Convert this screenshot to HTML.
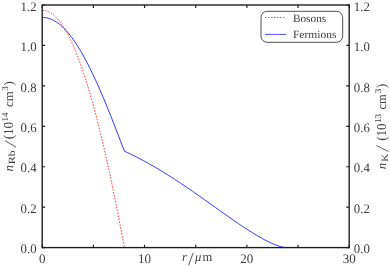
<!DOCTYPE html>
<html><head><meta charset="utf-8"><title>plot</title>
<style>
html,body{margin:0;padding:0;background:#fff;}
svg{text-rendering:geometricPrecision;display:block;will-change:transform;font-family:"Liberation Serif",serif;}
</style></head><body>
<svg width="390" height="267" viewBox="0 0 390 267">
<rect width="390" height="267" fill="#fff"/>
<path d="M42.50,10.37 L43.89,10.44 L45.28,10.66 L46.66,11.02 L48.05,11.53 L49.44,12.18 L50.83,12.98 L52.21,13.92 L53.60,15.01 L54.99,16.24 L56.38,17.61 L57.76,19.13 L59.15,20.78 L60.54,22.59 L61.93,24.53 L63.31,26.62 L64.70,28.85 L66.09,31.22 L67.48,33.73 L68.86,36.38 L70.25,39.17 L71.64,42.10 L73.03,45.16 L74.41,48.37 L75.80,51.71 L77.19,55.19 L78.58,58.80 L79.96,62.55 L81.35,66.43 L82.74,70.45 L84.13,74.60 L85.51,78.88 L86.90,83.29 L88.29,87.82 L89.68,92.49 L91.06,97.29 L92.45,102.21 L93.84,107.26 L95.23,112.43 L96.62,117.73 L98.00,123.14 L99.39,128.68 L100.78,134.34 L102.17,140.11 L103.55,146.01 L104.94,152.02 L106.33,158.14 L107.72,164.38 L109.10,170.73 L110.49,177.18 L111.88,183.75 L113.27,190.43 L114.65,197.21 L116.04,204.09 L117.43,211.08 L118.82,218.17 L120.20,225.36 L121.59,232.64 L122.98,240.02 L124.37,247.50" fill="none" stroke="#ff0000" stroke-width="0.8" stroke-dasharray="1.5 1.5"/>
<path d="M42.50,17.45 L43.89,17.49 L45.28,17.63 L46.66,17.86 L48.05,18.18 L49.44,18.60 L50.83,19.10 L52.21,19.70 L53.60,20.38 L54.99,21.16 L56.38,22.03 L57.76,22.98 L59.15,24.03 L60.54,25.16 L61.93,26.38 L63.31,27.69 L64.70,29.08 L66.09,30.56 L67.48,32.12 L68.86,33.77 L70.25,35.50 L71.64,37.31 L73.03,39.20 L74.41,41.17 L75.80,43.22 L77.19,45.34 L78.58,47.54 L79.96,49.82 L81.35,52.16 L82.74,54.58 L84.13,57.07 L85.51,59.63 L86.90,62.25 L88.29,64.94 L89.68,67.70 L91.06,70.51 L92.45,73.38 L93.84,76.32 L95.23,79.31 L96.62,82.35 L98.00,85.45 L99.39,88.59 L100.78,91.79 L102.17,95.03 L103.55,98.31 L104.94,101.64 L106.33,105.00 L107.72,108.40 L109.10,111.84 L110.49,115.31 L111.88,118.81 L113.27,122.34 L114.65,125.89 L116.04,129.46 L117.43,133.05 L118.82,136.66 L120.20,140.28 L121.59,143.92 L122.98,147.56 L124.37,151.20 L125.99,151.94 L127.62,152.70 L129.25,153.46 L130.88,154.24 L132.51,155.04 L134.13,155.84 L135.76,156.65 L137.39,157.48 L139.02,158.32 L140.65,159.17 L142.28,160.03 L143.90,160.91 L145.53,161.79 L147.16,162.69 L148.79,163.59 L150.42,164.51 L152.04,165.44 L153.67,166.38 L155.30,167.32 L156.93,168.28 L158.56,169.25 L160.18,170.23 L161.81,171.21 L163.44,172.21 L165.07,173.22 L166.70,174.23 L168.32,175.25 L169.95,176.28 L171.58,177.32 L173.21,178.37 L174.84,179.42 L176.46,180.49 L178.09,181.56 L179.72,182.63 L181.35,183.72 L182.98,184.81 L184.60,185.90 L186.23,187.01 L187.86,188.12 L189.49,189.23 L191.12,190.35 L192.74,191.47 L194.37,192.60 L196.00,193.73 L197.63,194.87 L199.26,196.01 L200.88,197.16 L202.51,198.30 L204.14,199.45 L205.77,200.61 L207.40,201.76 L209.02,202.92 L210.65,204.08 L212.28,205.23 L213.91,206.39 L215.54,207.55 L217.16,208.71 L218.79,209.87 L220.42,211.03 L222.05,212.18 L223.68,213.33 L225.30,214.49 L226.93,215.63 L228.56,216.78 L230.19,217.92 L231.82,219.05 L233.44,220.18 L235.07,221.30 L236.70,222.42 L238.33,223.53 L239.96,224.63 L241.58,225.73 L243.21,226.81 L244.84,227.89 L246.47,228.95 L248.10,230.00 L249.73,231.04 L251.35,232.07 L252.98,233.08 L254.61,234.08 L256.24,235.06 L257.87,236.02 L259.49,236.96 L261.12,237.88 L262.75,238.78 L264.38,239.66 L266.01,240.51 L267.63,241.33 L269.26,242.12 L270.89,242.89 L272.52,243.61 L274.15,244.30 L275.77,244.95 L277.40,245.55 L279.03,246.10 L280.66,246.58 L282.29,247.00 L283.91,247.32 L285.54,247.50" fill="none" stroke="#0000ff" stroke-width="0.8"/>
<rect x="42.2" y="5.0" width="307.0" height="242.6" fill="none" stroke="#1a1a1a" stroke-width="1.35"/>
<path d="M42.20,247.6 v-2.9 M42.20,5.0 v2.9 M42.2,247.60 h2.9 M349.2,247.60 h-2.9 M93.37,247.6 v-2.9 M93.37,5.0 v2.9 M42.2,207.17 h2.9 M349.2,207.17 h-2.9 M144.53,247.6 v-2.9 M144.53,5.0 v2.9 M42.2,166.73 h2.9 M349.2,166.73 h-2.9 M195.70,247.6 v-2.9 M195.70,5.0 v2.9 M42.2,126.30 h2.9 M349.2,126.30 h-2.9 M246.87,247.6 v-2.9 M246.87,5.0 v2.9 M42.2,85.87 h2.9 M349.2,85.87 h-2.9 M298.03,247.6 v-2.9 M298.03,5.0 v2.9 M42.2,45.43 h2.9 M349.2,45.43 h-2.9 M349.20,247.6 v-2.9 M349.20,5.0 v2.9 M42.2,5.00 h2.9 M349.2,5.00 h-2.9" stroke="#1a1a1a" stroke-width="1.15" fill="none"/>
<g font-size="13px" fill="#3c3c3c">
<text x="20.6" y="253.30" textLength="16" lengthAdjust="spacingAndGlyphs">0.0</text>
<text x="353.8" y="253.30" textLength="16" lengthAdjust="spacingAndGlyphs">0.0</text>
<text x="20.6" y="212.87" textLength="16" lengthAdjust="spacingAndGlyphs">0.2</text>
<text x="353.8" y="212.87" textLength="16" lengthAdjust="spacingAndGlyphs">0.2</text>
<text x="20.6" y="172.43" textLength="16" lengthAdjust="spacingAndGlyphs">0.4</text>
<text x="353.8" y="172.43" textLength="16" lengthAdjust="spacingAndGlyphs">0.4</text>
<text x="20.6" y="132.00" textLength="16" lengthAdjust="spacingAndGlyphs">0.6</text>
<text x="353.8" y="132.00" textLength="16" lengthAdjust="spacingAndGlyphs">0.6</text>
<text x="20.6" y="91.57" textLength="16" lengthAdjust="spacingAndGlyphs">0.8</text>
<text x="353.8" y="91.57" textLength="16" lengthAdjust="spacingAndGlyphs">0.8</text>
<text x="20.6" y="51.13" textLength="16" lengthAdjust="spacingAndGlyphs">1.0</text>
<text x="353.8" y="51.13" textLength="16" lengthAdjust="spacingAndGlyphs">1.0</text>
<text x="20.6" y="10.70" textLength="16" lengthAdjust="spacingAndGlyphs">1.2</text>
<text x="353.8" y="10.70" textLength="16" lengthAdjust="spacingAndGlyphs">1.2</text>
<text x="42.20" y="263" text-anchor="middle">0</text>
<text x="144.53" y="263" text-anchor="middle">10</text>
<text x="246.87" y="263" text-anchor="middle">20</text>
<text x="349.20" y="263" text-anchor="middle">30</text>
<text x="182" y="261.4" font-size="12.6px"><tspan font-style="italic">r</tspan><tspan x="194.9" font-style="italic">μ</tspan><tspan x="202.5">m</tspan></text>
</g>
<!-- left y label -->
<g font-size="13.7px" fill="#3c3c3c" transform="translate(13,171.5) rotate(-90)">
<text x="0" y="0" font-style="italic" font-size="12.8px">n</text>
<text x="7.3" y="2.4" font-size="9.5px" textLength="13.8" lengthAdjust="spacingAndGlyphs">Rb</text>
<text x="32.3" y="0">(</text>
<text x="36.5" y="0" textLength="13.2" lengthAdjust="spacingAndGlyphs">10</text>
<text x="50" y="-5" font-size="9.1px">14</text>
<text x="64.5" y="0" font-size="12.6px" textLength="15.5" lengthAdjust="spacingAndGlyphs">cm</text>
<text x="80.7" y="-5" font-size="9.1px">3</text>
<text x="85.8" y="0">)</text>
</g>
<!-- right y label -->
<g font-size="13.7px" fill="#3c3c3c" transform="translate(385.8,169.3) rotate(-90)">
<text x="0" y="0" font-style="italic" font-size="12.8px">n</text>
<text x="7.5" y="2.6" font-size="9.5px" textLength="8.1" lengthAdjust="spacingAndGlyphs">K</text>
<text x="28.6" y="0">(</text>
<text x="32.9" y="0" textLength="13.0" lengthAdjust="spacingAndGlyphs">10</text>
<text x="46.2" y="-5" font-size="9.1px">13</text>
<text x="59.8" y="0" font-size="12.6px" textLength="15.4" lengthAdjust="spacingAndGlyphs">cm</text>
<text x="76" y="-5" font-size="9.1px">3</text>
<text x="81" y="0">)</text>
</g>
<path d="M188.6,265.2 L193.1,253 M16.0,147.2 L4.8,140.6 M388.6,151.5 L376.4,145.5" stroke="#333" stroke-width="0.8" fill="none"/>
<!-- legend -->
<rect x="261" y="11.3" width="81.7" height="31" rx="6.2" ry="6.2" fill="#fff" stroke="#222" stroke-width="0.8"/>
<path d="M265,17.5 H286.1" stroke="#ff0000" stroke-width="0.7" stroke-dasharray="1.5 1.5"/>
<path d="M265,34.4 H286.1" stroke="#0000ff" stroke-width="0.7"/>
<g font-size="11px" fill="#3c3c3c">
<text x="292.9" y="22" textLength="33.3" lengthAdjust="spacingAndGlyphs">Bosons</text>
<text x="292.9" y="38.2" textLength="43.7" lengthAdjust="spacingAndGlyphs">Fermions</text>
</g>
</svg>
</body></html>
